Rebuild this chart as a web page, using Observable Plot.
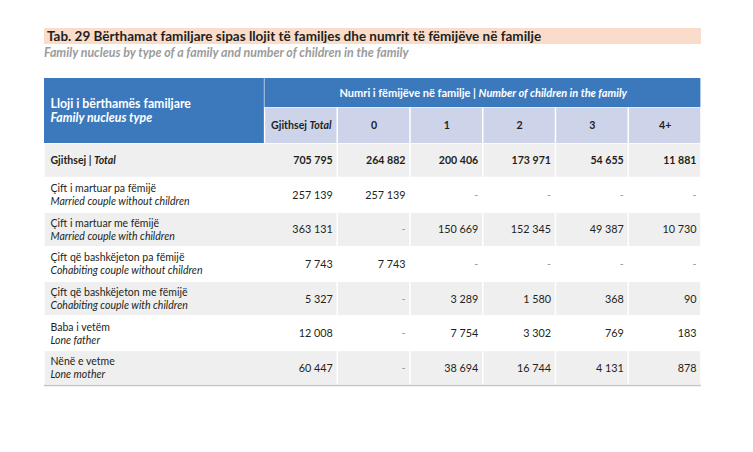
<!DOCTYPE html>
<html><head><meta charset="utf-8">
<script src="https://cdn.jsdelivr.net/npm/d3@7"></script>
<script src="https://cdn.jsdelivr.net/npm/@observablehq/plot@0.6"></script>
<style>
body{margin:0;background:#fff;font-family:Lato,"Open Sans",sans-serif;}
#head{position:relative;height:78px;width:753px;}
#title{position:absolute;left:44px;top:28px;width:654px;height:16px;background:#f9dcca;color:#231f20;font-weight:700;font-size:13.5px;line-height:16px;padding-left:3px;white-space:nowrap;}
#subtitle{position:absolute;left:44px;top:45px;color:#9b9b9b;font-weight:700;font-style:italic;font-size:12.4px;line-height:15px;white-space:nowrap;}
#chart svg text{white-space:pre;}
</style></head>
<body>
<div id="head"><div id="title"></div><div id="subtitle"></div></div>
<div id="chart"></div>
<script>
// ---- texts ----
const titleText = "Tab. 29 Bërthamat familjare sipas llojit të familjes dhe numrit të fëmijëve në familje";
const subtitleText = "Family nucleus by type of a family and number of children in the family";
const stubHeaderAl = "Lloji i bërthamës familjare";
const stubHeaderEn = "Family nucleus type";
const spannerAl = "Numri i fëmijëve në familje | ";
const spannerEn = "Number of children in the family";
const columnLabelsAl = ["Gjithsej ", "0", "1", "2", "3", "4+"];
const columnLabelsEn = ["Total", "", "", "", "", ""];
const rowLabelsAl = ["Gjithsej | ", "Çift i martuar pa fëmijë", "Çift i martuar me fëmijë", "Çift që bashkëjeton pa fëmijë", "Çift që bashkëjeton me fëmijë", "Baba i vetëm", "Nënë e vetme"];
const rowLabelsEn = ["Total", "Married couple without children", "Married couple with children", "Cohabiting couple without children", "Cohabiting couple with children", "Lone father", "Lone mother"];

// ---- values (null = "-") ----
const totalValues   = [705795, 257139, 363131, 7743, 5327, 12008, 60447];
const children0     = [264882, 257139, null, 7743, null, null, null];
const children1     = [200406, null, 150669, null, 3289, 7754, 38694];
const children2     = [173971, null, 152345, null, 1580, 3302, 16744];
const children3     = [54655, null, 49387, null, 368, 769, 4131];
const children4plus = [11881, null, 10730, null, 90, 183, 878];
const series = [totalValues, children0, children1, children2, children3, children4plus];

document.getElementById("title").textContent = titleText;
document.getElementById("subtitle").textContent = subtitleText;

// ---- grid layout (in scale units) ----
const stubW = 3.03;
const nCols = series.length;
const head1 = 0.84, headTop = 1.88;
const nRows = rowLabelsAl.length;
const colX1 = j => stubW + j, colX2 = j => stubW + j + 1;
const rowY1 = i => headTop + i, rowY2 = i => headTop + i + 1, rowYc = i => headTop + i + 0.5;

const blue = "#3c79bc", lav = "#cdd4ea", gray = "#efefef", ink = "#231f20";
const fmt = v => v == null ? "-" : d3.format(",")(v).replace(/,/g, " ");

const blueCells = [
  {x1: 0, x2: stubW, y1: 0, y2: headTop},
  {x1: stubW, x2: stubW + nCols, y1: 0, y2: head1}
];
const colCells = columnLabelsAl.map((a, j) => ({x1: colX1(j), x2: colX2(j), y1: head1, y2: headTop, xc: colX1(j) + 0.5, yc: (head1 + headTop) / 2, text: a + columnLabelsEn[j]}));
const grayCells = [];
rowLabelsAl.forEach((a, i) => {
  if (i % 2 === 0) {
    grayCells.push({x1: 0, x2: colX2(0), y1: rowY1(i), y2: rowY2(i)});
    for (let j = 1; j < nCols; j++) grayCells.push({x1: colX1(j), x2: colX2(j), y1: rowY1(i), y2: rowY2(i)});
  }
});
const cells = [];
rowLabelsAl.forEach((a, i) => series.forEach((s, j) => cells.push({i, j, x: colX2(j), y: rowYc(i), v: s[i], text: fmt(s[i])})));
const rows = rowLabelsAl.map((a, i) => ({i, al: a, en: rowLabelsEn[i], y: rowYc(i)}));

const plot = Plot.plot({
  width: 753, height: 374,
  marginLeft: 44, marginRight: 52, marginTop: 0, marginBottom: 67,
  x: {domain: [0, stubW + nCols], axis: null},
  y: {domain: [0, headTop + nRows], reverse: true, axis: null},
  style: {fontFamily: "Lato, 'Open Sans', sans-serif", background: "#fff"},
  marks: [
    Plot.rect(blueCells, {x1: "x1", x2: "x2", y1: "y1", y2: "y2", fill: blue, insetRight: 0.6}),
    Plot.rect(colCells, {x1: "x1", x2: "x2", y1: "y1", y2: "y2", fill: lav, insetLeft: 0.75, insetRight: 0.75, insetTop: 0.5}),
    Plot.rect(grayCells, {x1: "x1", x2: "x2", y1: "y1", y2: "y2", fill: gray, insetLeft: 0.75, insetRight: 0.75, insetTop: 0.75, insetBottom: 0.75}),
    Plot.ruleY([headTop + nRows], {x1: 0, x2: stubW + nCols, stroke: "#c4c4c4", strokeWidth: 1.5}),
    // stub header
    Plot.text([stubHeaderAl], {x: 0, y: headTop / 2, text: d => d, textAnchor: "start", dx: 6, dy: -7, fill: "#fff", fontSize: 12.3, fontWeight: 700}),
    Plot.text([stubHeaderEn], {x: 0, y: headTop / 2, text: d => d, textAnchor: "start", dx: 6, dy: 7, fill: "#fff", fontSize: 12.3, fontWeight: 700, fontStyle: "italic"}),
    // spanner
    Plot.text([spannerAl + spannerEn], {x: stubW + nCols / 2, y: head1 / 2, text: d => d, fill: "#fff", fontSize: 11, fontWeight: 700}),
    // column labels
    Plot.text(colCells, {x: "xc", y: "yc", text: "text", fill: ink, fontSize: 10.6, fontWeight: 700}),
    // row labels
    Plot.text(rows.filter(r => r.i === 0), {x: 0, y: "y", text: d => d.al + d.en, textAnchor: "start", dx: 6, fill: ink, fontSize: 10.5, fontWeight: 700}),
    Plot.text(rows.filter(r => r.i > 0), {x: 0, y: "y", text: "al", textAnchor: "start", dx: 6, dy: -6.5, fill: ink, fontSize: 10.5}),
    Plot.text(rows.filter(r => r.i > 0), {x: 0, y: "y", text: "en", textAnchor: "start", dx: 6, dy: 6.5, fill: ink, fontSize: 10.5, fontStyle: "italic"}),
    // values
    Plot.text(cells.filter(c => c.i === 0), {x: "x", y: "y", text: "text", textAnchor: "end", dx: -5, fill: ink, fontSize: 10.6, fontWeight: 700}),
    Plot.text(cells.filter(c => c.i > 0), {x: "x", y: "y", text: "text", textAnchor: "end", dx: -5, fill: d => d.v == null ? "#9a9a9a" : ink, fontSize: 10.8})
  ]
});

// mixed upright / italic runs
const pairs = [[spannerAl, spannerEn], [columnLabelsAl[0], columnLabelsEn[0]], [rowLabelsAl[0], rowLabelsEn[0]]];
plot.querySelectorAll("text").forEach(t => {
  const s = t.textContent;
  for (const [a, b] of pairs) {
    if (s === a + b) {
      t.textContent = "";
      const ns = "http://www.w3.org/2000/svg";
      const t1 = document.createElementNS(ns, "tspan"); t1.textContent = a;
      const t2 = document.createElementNS(ns, "tspan"); t2.textContent = b; t2.setAttribute("font-style", "italic");
      t.appendChild(t1); t.appendChild(t2);
      break;
    }
  }
});
document.getElementById("chart").appendChild(plot);
</script>
</body></html>
